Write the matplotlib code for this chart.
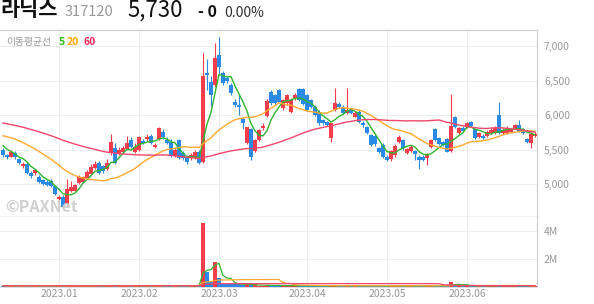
# 라닉스 (317120) daily candle chart with moving averages and volume
import numpy as np
import pandas as pd
import matplotlib
matplotlib.use("Agg")
import matplotlib.pyplot as plt

plt.rcParams['font.family'] = ['Noto Sans CJK KR', 'DejaVu Sans']

# KRX trading days shown on the chart
holidays = ['2022-12-30', '2023-01-23', '2023-01-24', '2023-03-01',
            '2023-05-01', '2023-05-05', '2023-05-29', '2023-06-06']
days = pd.bdate_range('2022-12-12', '2023-06-27')
days = days[~days.isin(pd.to_datetime(holidays))]

opens = [5500, 5420, 5400, 5450, 5360, 5260, 5300, 5170, 5160, 5105,
         5060, 5040, 5050, 4975, 4785, 4820, 4715, 4910, 4910, 5015,
         5040, 5090, 5150, 5230, 5310, 5260, 5215, 5450, 5520, 5440,
         5460, 5505, 5640, 5470, 5496, 5630, 5650, 5700, 5535, 5650,
         5760, 5640, 5615, 5410, 5640, 5450, 5400, 5375, 5375, 5470,
         5325, 6615, 6485, 6435, 6870, 6605, 6530, 6435, 6195, 6145,
         5940, 5595, 5795, 5485, 5640, 5810, 5990, 6340, 6290, 6365,
         6100, 6170, 6050, 6245, 6375, 6375, 6290, 6220, 6115, 6050,
         5930, 5900, 5665, 6075, 6160, 6115, 6025, 6075, 5980, 6050,
         5890, 5830, 5710, 5700, 5520, 5570, 5400, 5360, 5420, 5615,
         5640, 5455, 5485, 5485, 5400, 5400, 5375, 5545, 5795, 5675,
         5615, 5650, 5485, 5970, 5735, 5810, 5830, 5905, 5795, 5690,
         5700, 5700, 5740, 5735, 6000, 5745, 5745, 5760, 5810, 5855,
         5800, 5650, 5600, 5700]
highs = [5530, 5440, 5490, 5480, 5380, 5320, 5320, 5190, 5220, 5130,
         5080, 5060, 5070, 4990, 4840, 4840, 5070, 5050, 5010, 5130,
         5120, 5210, 5290, 5330, 5330, 5280, 5360, 5720, 5600, 5540,
         5560, 5700, 5680, 5600, 5700, 5660, 5720, 5720, 5600, 5830,
         5800, 5680, 5660, 5520, 5660, 5480, 5420, 5450, 5500, 5490,
         6895, 6805, 6560, 7050, 7125, 6640, 6560, 6460, 6230, 6290,
         5980, 5830, 5810, 5660, 5800, 5880, 6230, 6360, 6310, 6380,
         6240, 6310, 6250, 6320, 6390, 6390, 6310, 6240, 6140, 6070,
         5950, 5920, 5890, 6390, 6190, 6140, 6390, 6090, 6060, 6070,
         5910, 5850, 5730, 5720, 5540, 5590, 5420, 5500, 5580, 5710,
         5660, 5530, 5570, 5500, 5420, 5420, 5450, 5660, 5810, 5690,
         5630, 5670, 6305, 5990, 5830, 5850, 5900, 5920, 5810, 5760,
         5720, 5780, 5810, 5840, 6195, 5810, 5840, 5820, 5870, 5930,
         5820, 5670, 5760, 5760]
lows = [5400, 5370, 5390, 5370, 5290, 5240, 5150, 5090, 5140, 5020,
        4985, 4970, 4960, 4840, 4760, 4650, 4700, 4890, 4900, 5000,
        5020, 5080, 5130, 5220, 5150, 5170, 5200, 5430, 5290, 5420,
        5450, 5490, 5520, 5450, 5480, 5580, 5630, 5580, 5520, 5640,
        5660, 5580, 5400, 5400, 5360, 5350, 5300, 5350, 5360, 5300,
        5310, 6360, 6130, 6400, 6600, 6440, 6460, 6290, 6120, 6000,
        5800, 5580, 5350, 5470, 5620, 5790, 5970, 6150, 6140, 6180,
        6080, 6150, 6030, 6220, 6200, 6150, 6060, 6100, 5990, 5860,
        5860, 5850, 5610, 6060, 6100, 6010, 6010, 6010, 5970, 5890,
        5830, 5720, 5550, 5560, 5450, 5380, 5330, 5340, 5400, 5600,
        5500, 5440, 5470, 5350, 5215, 5330, 5280, 5530, 5620, 5570,
        5550, 5460, 5470, 5810, 5720, 5760, 5810, 5830, 5650, 5670,
        5650, 5690, 5730, 5720, 5730, 5730, 5730, 5750, 5800, 5750,
        5730, 5600, 5520, 5690]
closes = [5420, 5390, 5460, 5390, 5310, 5300, 5170, 5120, 5200, 5040,
          5000, 4990, 4975, 4860, 4820, 4670, 4930, 4960, 4990, 5110,
          5105, 5180, 5245, 5295, 5170, 5190, 5310, 5615, 5305, 5496,
          5520, 5600, 5535, 5545, 5680, 5600, 5690, 5595, 5570, 5810,
          5690, 5595, 5410, 5496, 5375, 5375, 5325, 5425, 5470, 5310,
          6565, 6580, 6290, 6820, 6690, 6470, 6490, 6315, 6145, 6120,
          5890, 5825, 5400, 5640, 5785, 5845, 6210, 6170, 6170, 6195,
          6220, 6290, 6220, 6290, 6220, 6160, 6075, 6120, 6000, 5880,
          5880, 5860, 5880, 6170, 6120, 6025, 6075, 6030, 6035, 5905,
          5855, 5735, 5570, 5580, 5470, 5400, 5350, 5485, 5560, 5690,
          5520, 5505, 5545, 5440, 5350, 5350, 5435, 5640, 5640, 5585,
          5570, 5470, 5845, 5830, 5810, 5775, 5880, 5845, 5665, 5745,
          5665, 5760, 5790, 5820, 5745, 5790, 5820, 5800, 5855, 5760,
          5740, 5610, 5730, 5730]
# closes before the visible window, only used to warm up the averages
pre_close = [6080, 6120, 6150, 6100, 6060, 6090, 6130, 6170, 6140, 6100,
             6070, 6110, 6150, 6120, 6080, 6050, 6090, 6120, 6100, 6070,
             6110, 6140, 6100, 6050,
             6000, 5960, 5920, 5900, 5870, 5850, 5820, 5790, 5760, 5740,
             5720, 5700, 5680, 5660, 5640, 5620,
             5700, 5740, 5780, 5820, 5800, 5780, 5760, 5790, 5760, 5740,
             5720, 5750, 5730, 5700, 5680,
             5650, 5610, 5570, 5540]
volume = [60000, 45000, 50000, 40000, 55000, 38000, 70000, 52000, 35000, 48000,
          42000, 39000, 44000, 65000, 58000, 80000, 95000, 60000, 40000, 55000,
          47000, 50000, 62000, 45000, 70000, 42000, 52000, 110000, 85000, 48000,
          40000, 56000, 61000, 50000, 45000, 70000, 52000, 48000, 43000, 120000,
          75000, 50000, 80000, 60000, 90000, 55000, 47000, 42000, 50000, 65000,
          4640000, 1080000, 300000, 1750000, 640000, 210000, 180000, 150000, 200000, 160000,
          120000, 150000, 110000, 100000, 70000, 60000, 95000, 80000, 70000, 65000,
          60000, 55000, 58000, 50000, 62000, 48000, 45000, 52000, 47000, 44000,
          40000, 42000, 55000, 90000, 60000, 48000, 75000, 50000, 45000, 42000,
          46000, 50000, 40000, 44000, 58000, 48000, 38000, 36000, 40000, 52000,
          46000, 42000, 44000, 40000, 47000, 60000, 85000, 55000, 48000, 44000,
          90000, 50000, 350000, 110000, 60000, 52000, 60000, 48000, 45000, 50000,
          55000, 44000, 42000, 50000, 120000, 50000, 46000, 48000, 52000, 70000,
          65000, 58000, 60000, 50000]

ma_periods = [5, 20, 60]
ma_colors = ['#2fb52f', '#ffa931', '#f2466c']
up_color = '#f23d4c'
down_color = '#2b8ae6'
grid_color = '#eeeeee'
label_color = '#999999'

o = np.array(opens)
h = np.array(highs)
l = np.array(lows)
c = np.array(closes)
v = np.array(volume)
x = np.arange(len(days))
up = c >= o
colors = np.where(up, up_color, down_color)

all_close = pd.Series(pre_close + closes)
price_ma = [all_close.rolling(n).mean().values[len(pre_close):] for n in ma_periods]
vol_ma = [pd.Series(v).rolling(n, min_periods=1).mean().values for n in ma_periods]

month_pos = [np.where((days.year == 2023) & (days.month == m))[0][0] for m in range(1, 7)]
month_lbl = [days[p].strftime('%Y.%m') for p in month_pos]

W, H = 594, 304
fig = plt.figure(figsize=(W / 100, H / 100), dpi=100)


def px_axes(left, top, right, bottom):
    return fig.add_axes([left / W, 1 - bottom / H, (right - left) / W, (bottom - top) / H])


ax = px_axes(0, 30, 537, 217)
axv = px_axes(0, 217, 537, 286.5)

# price panel
ax.vlines(x, l, h, colors=colors, lw=0.8, zorder=2)
body = np.maximum(np.abs(c - o), 12)
ax.bar(x, body, bottom=np.minimum(o, c), width=0.82, color=colors, lw=0, zorder=3)
for ma, col in zip(price_ma, ma_colors):
    ax.plot(x, ma, color=col, lw=1.0, zorder=4)

ax.set_xlim(-0.75, 133.5)
ax.set_ylim(4527, 7231)
price_ticks = [5000, 5500, 6000, 6500, 7000]
ax.set_yticks(price_ticks)
ax.set_yticklabels([f'{t:,}' for t in price_ticks])
ax.yaxis.tick_right()
ax.set_xticks(month_pos)
ax.set_xticklabels([])
ax.grid(True, color=grid_color, lw=0.8, zorder=0)
ax.set_axisbelow(True)

# volume panel
axv.bar(x, v, width=0.82, color=colors, lw=0, zorder=3)
for ma, col in zip(vol_ma, ma_colors):
    axv.plot(x, ma, color=col, lw=0.9, zorder=4)
axv.set_xlim(-0.75, 133.5)
axv.set_ylim(0, 5.05e6)
axv.set_yticks([2e6, 4e6])
axv.set_yticklabels(['2M', '4M'])
axv.yaxis.tick_right()
axv.set_xticks(month_pos)
axv.set_xticklabels(month_lbl)
axv.grid(True, color=grid_color, lw=0.8, zorder=0)
axv.set_axisbelow(True)

for a in (ax, axv):
    a.tick_params(length=0, labelcolor=label_color, labelsize=7.5)
    a.tick_params(axis='y', pad=5)
    a.spines['left'].set_visible(False)
    a.spines['right'].set_color('#cccccc')
ax.spines['top'].set_color('#cccccc')
ax.spines['bottom'].set_color('#333333')
axv.spines['top'].set_visible(False)
axv.spines['bottom'].set_color('#dddddd')
axv.tick_params(axis='x', pad=2)


# header
def ftext(px, py, s, **kw):
    fig.text(px / W, 1 - py / H, s, va='baseline', **kw)


ftext(0, 16, '라닉스', fontsize=15, fontweight='bold', color='#111111')
ftext(65, 16, '317120', fontsize=10.5, color='#999999')
ftext(127, 17, '5,730', fontsize=16, color='#111111')
ftext(198, 17, '- 0', fontsize=11.5, fontweight='bold', color='#111111')
ftext(224, 17, '0.00%', fontsize=10, color='#333333')

ftext(6, 45, '이동평균선', fontsize=7, color='#999999')
ftext(59, 45, '5', fontsize=7.5, fontweight='bold', color='#33bb22')
ftext(67, 45, '20', fontsize=7.5, fontweight='bold', color='#ffa500')
ftext(83, 45, '60', fontsize=7.5, fontweight='bold', color='#f0285a')

ftext(5, 212, '©PAXNet', fontsize=11.5, fontweight='bold', color='#d0d0d0')

fig.savefig('out.png', dpi=100)
